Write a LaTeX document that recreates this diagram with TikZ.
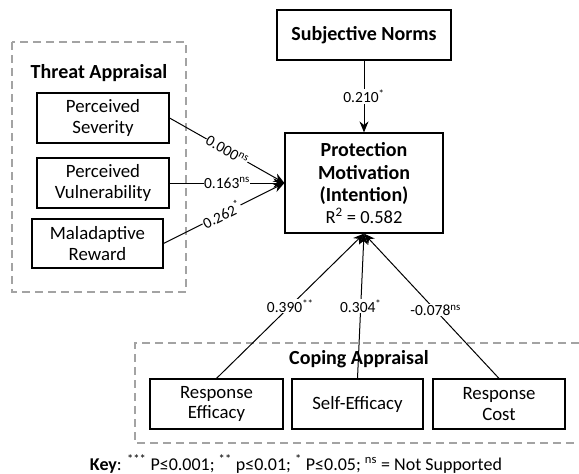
\documentclass[tikz,border=0pt]{standalone}
\usepackage{fontspec}
\setmainfont{Carlito}
\usetikzlibrary{arrows.meta}
\begin{document}
\begin{tikzpicture}[x=1pt,y=-1pt,
  box/.style={draw=black,line width=1.2pt,fill=white,align=center,inner sep=1pt,
    font=\fontsize{18.8}{20.7}\selectfont},
  grp/.style={draw=black!36,line width=1.3pt,dash pattern=on 8pt off 5pt},
  ttl/.style={font=\fontsize{20}{22}\selectfont\bfseries},
  lbl/.style={fill=white,inner sep=0.5pt,font=\fontsize{15.5}{18}\selectfont},
  arr/.style={line width=1pt,-{Stealth[length=11pt,width=9pt]}}]
\useasboundingbox (0,0) rectangle (579,474);
% groups
\draw[grp] (12,42) rectangle (186,292);
\draw[grp] (579,343) -- (135,343) -- (135,443) -- (579,443);
\node[ttl] (ta) at (99,73) {Threat Appraisal};
\node[ttl] (ca) at (359,359) {Coping Appraisal};
% nodes
\node[box,minimum width=174pt,minimum height=50pt,font=\fontsize{20}{22}\selectfont\bfseries] (sn) at (364,35) {Subjective Norms};
\node[box,minimum width=158pt,minimum height=100pt,font=\fontsize{20}{22.5}\selectfont] (pm) at (364,183)
  {\textbf{Protection}\\\textbf{Motivation}\\\textbf{(Intention)}\\[-1pt]{\fontsize{18.5}{20}\selectfont R\textsuperscript{2} = 0.582}};
\node[box,minimum width=132pt,minimum height=50pt] (ps) at (103,118) {Perceived\\Severity};
\node[box,minimum width=132pt,minimum height=50pt] (pv) at (103,183) {Perceived\\Vulnerability};
\node[box,minimum width=131pt,minimum height=49pt] (mr) at (97.5,243.5) {Maladaptive\\Reward};
\node[box,minimum width=133pt,minimum height=50pt] (re) at (216.5,404) {Response\\Efficacy};
\node[box,minimum width=131pt,minimum height=50pt] (se) at (357.5,404) {Self-Efficacy};
\node[box,minimum width=132pt,minimum height=50pt] (rc) at (499,404) {Response\\Cost};
% connectors
\draw[arr] (sn) -- node[lbl] {0.210\textsuperscript{*}} (pm);
\draw[arr] (ps.east) -- node[lbl,sloped,pos=0.5] {0.000\textsuperscript{ns}} (pm.west);
\draw[arr] (pv.east) -- node[lbl] {0.163\textsuperscript{ns}} (pm.west);
\draw[arr] (mr.east) -- node[lbl,sloped,pos=0.48] {0.262\textsuperscript{*}} (pm.west);
\draw[arr] (re.north) -- node[lbl] {0.390\textsuperscript{**}} (pm.south);
\draw[arr] (se.north) -- node[lbl] {0.304\textsuperscript{*}} (pm.south);
\draw[arr] (rc.north) -- node[lbl,pos=0.47] {-0.078\textsuperscript{ns}} (pm.south);
\node[font=\fontsize{18}{19}\selectfont,inner sep=0pt] (key) at (296,465)
  {\textbf{\underline{Key}}: \textsuperscript{***} P≤0.001; \textsuperscript{**} p≤0.01; \textsuperscript{*} P≤0.05; \textsuperscript{ns} = Not Supported};
\end{tikzpicture}
\end{document}
